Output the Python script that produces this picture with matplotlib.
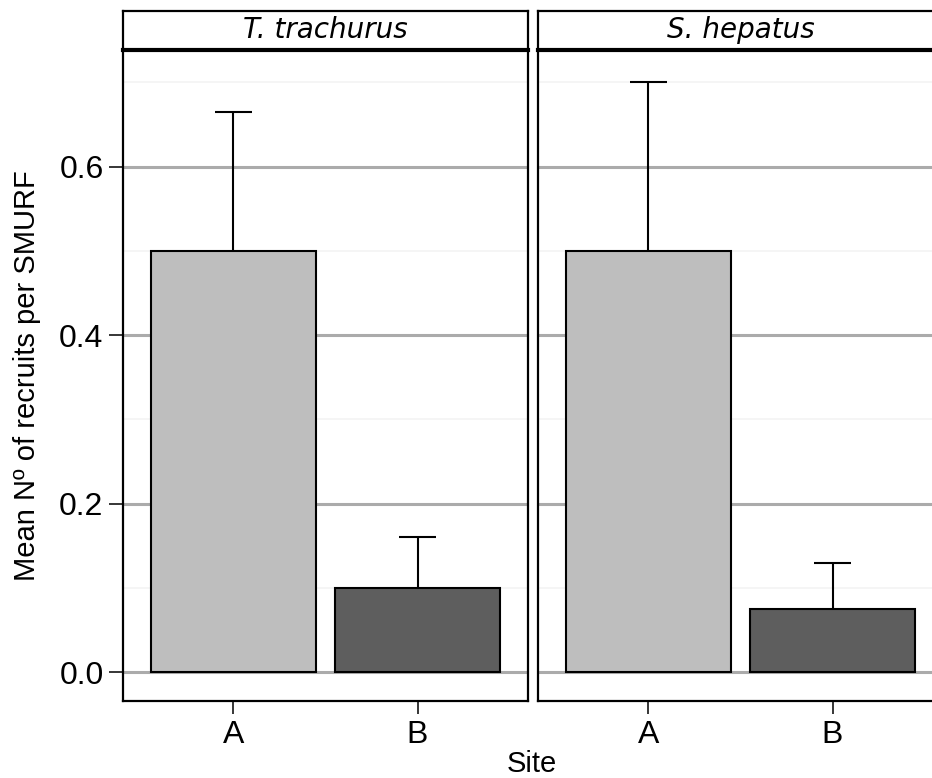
import matplotlib
matplotlib.use("Agg")
import matplotlib.pyplot as plt
import numpy as np

# data
species = ["T. trachurus", "S. hepatus"]
sites = ["A", "B"]
means = {"T. trachurus": [0.5, 0.1], "S. hepatus": [0.5, 0.075]}
errors = {"T. trachurus": [0.165, 0.06], "S. hepatus": [0.2, 0.055]}
bar_colors = ["#BEBEBE", "#5E5E5E"]

W, H = 932, 778
fig = plt.figure(figsize=(W / 100, H / 100), dpi=100)

label_font = "Liberation Sans"
strip_font = "DejaVu Sans"

# panel geometry in pixels
panel_x = [123, 538]
panel_w = 405
panel_top, panel_bot = 50, 701
strip_top = 11

ylim = (-0.0343, 0.7385)
xpos = np.arange(1, len(sites) + 1)

for i, sp in enumerate(species):
    x0 = panel_x[i] / W
    ax = fig.add_axes([x0, (H - panel_bot) / H, panel_w / W, (panel_bot - panel_top) / H])
    ax.set_xlim(0.4, 2.6)
    ax.set_ylim(*ylim)

    # grid
    ax.set_yticks([0.0, 0.2, 0.4, 0.6])
    ax.set_yticks([0.1, 0.3, 0.5, 0.7], minor=True)
    ax.grid(axis="y", which="major", color="#ABABAB", linewidth=2.2, zorder=0)
    ax.grid(axis="y", which="minor", color="#F3F3F3", linewidth=1.2, zorder=0)
    ax.set_axisbelow(True)

    # bars and error bars
    ax.bar(xpos, means[sp], width=0.9, color=bar_colors, edgecolor="black",
           linewidth=1.5, zorder=2)
    tops = np.array(means[sp]) + np.array(errors[sp])
    ax.vlines(xpos, means[sp], tops, color="black", linewidth=1.5, zorder=3)
    ax.hlines(tops, xpos - 0.1, xpos + 0.1, color="black", linewidth=1.5, zorder=3)

    ax.set_xticks(xpos)
    ax.set_xticklabels(sites, fontfamily=label_font, fontsize=23)
    ax.tick_params(axis="x", length=9, width=1.1, pad=5, colors="black")
    if i == 0:
        ax.set_yticklabels(["0.0", "0.2", "0.4", "0.6"], fontfamily=label_font, fontsize=23)
        ax.tick_params(axis="y", which="major", length=10, width=1.1, pad=4)
    else:
        ax.tick_params(axis="y", which="major", left=False, labelleft=False)
    ax.tick_params(axis="y", which="minor", left=False)

    for s in ax.spines.values():
        s.set_linewidth(1.6)
        s.set_color("black")

    # facet strip
    st = fig.add_axes([x0, (H - panel_top) / H, panel_w / W, (panel_top - strip_top) / H])
    st.set_xticks([])
    st.set_yticks([])
    for s in st.spines.values():
        s.set_linewidth(1.6)
    st.spines["bottom"].set_linewidth(3.0)
    st.text(0.5, 0.5, sp, ha="center", va="center", fontsize=20,
            fontfamily=strip_font, fontstyle="italic", transform=st.transAxes)

fig.text(27 / W, 1 - 376 / H, "Mean Nº of recruits per SMURF", rotation=90,
         ha="center", va="center", fontsize=21, fontfamily=label_font)
fig.text(532 / W, 1 - 764 / H, "Site", ha="center", va="center",
         fontsize=21, fontfamily=label_font)

fig.savefig("out.png", dpi=100)
